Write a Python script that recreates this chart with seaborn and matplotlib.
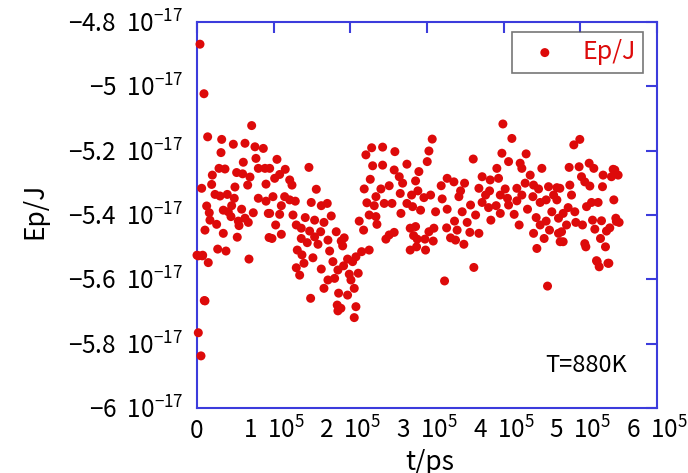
import numpy as np
import pandas as pd
import matplotlib
matplotlib.use("Agg")
import matplotlib.pyplot as plt
import seaborn as sns

# time in units of 1e5 ps, energy in units of 1e-17 J
pts = [
    (0.039, -4.869), (0.091, -5.023), (0.017, -5.766), (0.052, -5.838), (0.000, -5.525),
    (0.074, -5.525), (0.095, -5.666), (0.139, -5.157), (0.322, -5.165), (0.474, -5.180),
    (0.626, -5.177), (0.713, -5.122), (0.756, -5.188), (0.865, -5.193), (0.313, -5.206),
    (0.769, -5.224), (0.604, -5.236), (0.287, -5.255), (0.365, -5.257), (0.800, -5.255),
    (0.887, -5.255), (0.517, -5.268), (0.595, -5.272), (0.200, -5.276), (0.691, -5.282),
    (0.191, -5.305), (0.661, -5.307), (0.900, -5.304), (0.495, -5.313), (0.061, -5.317),
    (0.235, -5.336), (0.300, -5.341), (0.395, -5.336), (0.486, -5.348), (0.800, -5.348),
    (0.900, -5.357), (0.126, -5.372), (0.452, -5.371), (0.343, -5.385), (0.582, -5.382),
    (0.408, -5.390), (0.160, -5.393), (0.734, -5.393), (0.930, -5.395), (0.443, -5.405),
    (0.626, -5.410), (0.169, -5.416), (0.539, -5.419), (0.669, -5.423), (0.256, -5.429),
    (0.548, -5.433), (0.104, -5.447), (0.343, -5.457), (0.525, -5.469), (0.940, -5.470),
    (0.270, -5.506), (0.378, -5.512), (0.017, -5.527), (0.069, -5.527), (0.147, -5.548),
    (0.678, -5.537), (0.104, -5.667),
    (1.043, -5.227), (1.460, -5.252), (0.948, -5.255), (1.151, -5.258), (1.078, -5.274),
    (1.013, -5.286), (1.209, -5.291), (1.239, -5.307), (1.556, -5.320), (0.991, -5.343),
    (1.143, -5.343), (1.209, -5.353), (1.282, -5.357), (1.490, -5.361), (1.699, -5.364),
    (1.621, -5.371), (1.100, -5.371), (0.948, -5.395), (1.078, -5.398), (1.252, -5.400),
    (1.751, -5.403), (1.412, -5.408), (1.534, -5.416), (1.656, -5.423), (1.026, -5.431),
    (1.295, -5.431), (1.360, -5.441), (1.469, -5.450), (1.613, -5.452), (1.816, -5.452),
    (1.100, -5.460), (0.978, -5.473), (1.360, -5.473), (1.534, -5.468), (1.708, -5.478),
    (1.438, -5.486), (1.578, -5.491), (1.881, -5.481), (1.308, -5.509), (1.730, -5.512),
    (1.369, -5.524), (1.512, -5.533), (1.773, -5.545), (1.395, -5.550), (1.295, -5.564),
    (1.621, -5.568), (1.838, -5.571), (1.339, -5.587), (1.708, -5.602), (1.795, -5.597),
    (1.656, -5.628), (1.847, -5.643), (1.482, -5.659), (1.829, -5.680), (1.838, -5.698),
    (2.278, -5.191), (2.421, -5.189), (2.203, -5.213), (2.581, -5.203), (2.291, -5.247),
    (2.421, -5.245), (2.738, -5.242), (2.572, -5.260), (2.638, -5.281), (2.260, -5.289),
    (2.682, -5.301), (2.507, -5.309), (2.399, -5.319), (2.181, -5.319), (2.651, -5.333),
    (2.334, -5.343), (2.799, -5.338), (2.216, -5.362), (2.442, -5.364), (2.543, -5.364),
    (2.312, -5.371), (2.738, -5.364), (2.812, -5.374), (2.660, -5.395), (2.246, -5.400),
    (2.334, -5.405), (2.116, -5.419), (2.347, -5.429), (2.173, -5.447), (2.781, -5.441),
    (2.572, -5.454), (2.507, -5.462), (2.464, -5.475), (1.920, -5.471), (2.825, -5.464),
    (1.900, -5.496), (2.246, -5.509), (2.781, -5.509), (2.147, -5.514), (2.073, -5.530),
    (1.964, -5.537), (2.030, -5.545), (1.912, -5.558), (2.103, -5.581), (1.986, -5.584),
    (2.008, -5.602), (2.051, -5.628), (1.964, -5.649), (2.073, -5.685), (2.051, -5.719),
    (1.877, -5.690),
    (3.068, -5.164), (3.025, -5.201), (3.003, -5.234), (3.603, -5.226), (2.894, -5.265),
    (3.263, -5.286), (3.719, -5.281), (2.851, -5.294), (3.351, -5.297), (3.490, -5.301),
    (3.185, -5.309), (3.677, -5.317), (3.438, -5.325), (2.881, -5.325), (3.047, -5.338),
    (2.960, -5.346), (3.416, -5.343), (3.198, -5.350), (3.764, -5.338), (3.719, -5.361),
    (3.568, -5.369), (2.916, -5.385), (3.263, -5.382), (3.459, -5.390), (3.112, -5.390),
    (3.634, -5.400), (3.359, -5.419), (3.524, -5.423), (3.090, -5.441), (3.256, -5.440),
    (2.851, -5.436), (3.393, -5.447), (3.677, -5.457), (3.025, -5.452), (3.559, -5.454),
    (2.872, -5.475), (3.307, -5.471), (3.372, -5.478), (2.973, -5.475), (3.081, -5.481),
    (3.481, -5.491), (2.864, -5.499), (2.981, -5.509), (3.611, -5.563), (3.229, -5.605),
    (3.990, -5.117), (4.107, -5.162), (3.977, -5.208), (4.293, -5.210), (4.064, -5.234),
    (4.215, -5.239), (3.911, -5.255), (4.498, -5.255), (4.237, -5.255), (4.346, -5.276),
    (3.824, -5.291), (3.933, -5.286), (4.280, -5.301), (4.390, -5.307), (4.585, -5.312),
    (4.694, -5.315), (4.020, -5.319), (4.172, -5.317), (4.455, -5.319), (3.816, -5.325),
    (3.956, -5.338), (4.237, -5.338), (4.381, -5.343), (4.651, -5.338), (4.050, -5.348),
    (4.554, -5.353), (4.172, -5.356), (4.476, -5.361), (4.694, -5.353), (4.064, -5.369),
    (3.902, -5.371), (3.803, -5.377), (4.311, -5.382), (4.628, -5.390), (3.956, -5.395),
    (4.137, -5.398), (4.424, -5.408), (4.715, -5.410), (3.833, -5.416), (4.554, -5.419),
    (4.202, -5.431), (4.476, -5.431), (4.598, -5.447), (4.390, -5.457), (4.715, -5.457),
    (4.528, -5.473), (4.737, -5.483), (4.433, -5.504), (4.572, -5.621),
    (4.993, -5.165), (4.915, -5.182), (4.854, -5.252), (4.984, -5.250), (5.115, -5.239),
    (5.176, -5.255), (5.428, -5.258), (5.493, -5.276), (5.406, -5.281), (5.297, -5.276),
    (5.015, -5.281), (5.058, -5.297), (5.124, -5.310), (4.863, -5.307), (5.289, -5.312),
    (4.733, -5.317), (4.885, -5.338), (5.437, -5.353), (5.146, -5.361), (5.232, -5.361),
    (5.081, -5.374), (4.841, -5.377), (4.928, -5.390), (4.776, -5.395), (5.463, -5.410),
    (5.159, -5.416), (5.276, -5.418), (5.506, -5.423), (4.941, -5.423), (5.028, -5.431),
    (4.820, -5.431), (5.384, -5.440), (5.189, -5.444), (5.341, -5.450), (4.755, -5.452),
    (4.776, -5.483), (5.263, -5.473), (5.058, -5.489), (5.072, -5.499), (5.328, -5.499),
    (5.211, -5.542), (5.246, -5.561), (5.372, -5.550), (5.450, -5.260), (5.470, -5.420),
    (5.360, -5.550), (5.220, -5.545),
]
t_1e5 = [p[0] for p in pts]
ep_1e17 = [p[1] for p in pts]

x_ticks = [0, 1, 2, 3, 4, 5, 6]
y_ticks = [-6.0, -5.8, -5.6, -5.4, -5.2, -5.0, -4.8]
x_tick_labels = ["0", r"1  10$^{5}$", r"2  10$^{5}$", r"3  10$^{5}$", r"4  10$^{5}$", r"5  10$^{5}$", r"6  10$^{5}$"]
y_tick_labels = [r"−6  10$^{−17}$", r"−5.8  10$^{−17}$", r"−5.6  10$^{−17}$", r"−5.4  10$^{−17}$",
                 r"−5.2  10$^{−17}$", r"−5  10$^{−17}$", r"−4.8  10$^{−17}$"]

df = pd.DataFrame({"t": np.array(t_1e5) * 1e5, "Ep": np.array(ep_1e17) * 1e-17})

sns.set_style("white")
FONT = "Noto Sans CJK JP"
plt.rcParams["font.family"] = [FONT, "DejaVu Sans"]
plt.rcParams["mathtext.fontset"] = "custom"
plt.rcParams["mathtext.rm"] = FONT
plt.rcParams["mathtext.it"] = FONT
plt.rcParams["mathtext.default"] = "rm"
plt.rcParams["text.color"] = "black"

fig = plt.figure(figsize=(6.88, 4.73), dpi=100)
ax = fig.add_axes([197 / 688, 1 - 408 / 473, 460 / 688, 386 / 473])

red = "#dd0a0a"
blue = "#3c3cdc"
sns.scatterplot(data=df, x="t", y="Ep", ax=ax, color=red, s=42, edgecolor="none",
                label="Ep/J", clip_on=False, zorder=3)

ax.set_xlim(0, 6e5)
ax.set_ylim(-6e-17, -4.8e-17)
ax.set_xticks(np.array(x_ticks) * 1e5)
ax.set_xticklabels(x_tick_labels)
ax.set_yticks(np.array(y_ticks) * 1e-17)
ax.set_yticklabels(y_tick_labels)
ax.tick_params(direction="in", length=8, width=1.5, color=blue, labelcolor="black",
               top=True, right=True, labelsize=17.5, pad=10)
ax.tick_params(axis="x", pad=7)
for sp in ax.spines.values():
    sp.set_color(blue)
    sp.set_linewidth(1.5)
ax.set_xlabel("")
ax.set_ylabel("")
fig.text(35 / 688, 1 - 211 / 473, "Ep/J", rotation=90, ha="center", va="center", fontsize=19,
         color="black")
fig.text(430 / 688, 1 - 462 / 473, "t/ps", ha="center", va="center", fontsize=19, color="black")
ax.text(0.935, 0.11, "T=880K", transform=ax.transAxes, ha="right", va="center", fontsize=17,
        color="black")

leg = ax.legend(loc="upper right", bbox_to_anchor=(0.97, 0.975), borderaxespad=0, fontsize=18,
                frameon=True, fancybox=False, edgecolor="#555555", handletextpad=0.5,
                borderpad=0.3, markerscale=1.0)
leg.get_frame().set_linewidth(1.2)
for txt in leg.get_texts():
    txt.set_color(red)

fig.savefig("out.png", dpi=100)
